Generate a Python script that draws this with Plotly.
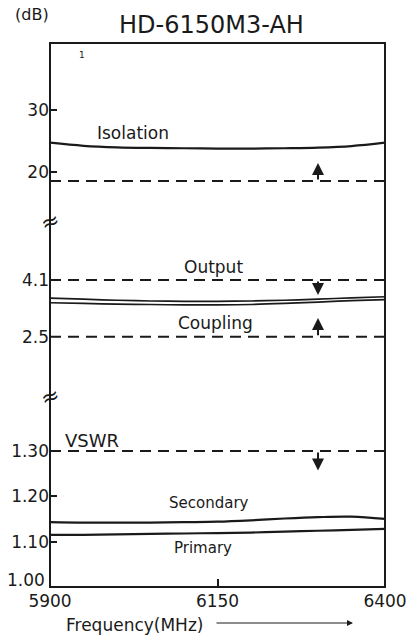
import plotly.graph_objects as go

# ---------------- data ----------------
freq = [5900, 5950, 6000, 6050, 6100, 6150, 6200, 6250, 6300, 6350, 6400]

isolation = [24.7, 24.2, 23.95, 23.85, 23.8, 23.75, 23.75, 23.8, 23.9, 24.15, 24.7]
output_db = [3.59, 3.56, 3.53, 3.51, 3.50, 3.50, 3.51, 3.53, 3.56, 3.60, 3.63]
coupling_db = [3.46, 3.44, 3.42, 3.41, 3.40, 3.40, 3.41, 3.44, 3.48, 3.52, 3.55]
vswr_secondary = [1.143, 1.142, 1.142, 1.142, 1.143, 1.144, 1.147, 1.151, 1.154, 1.155, 1.150]
vswr_primary = [1.115, 1.115, 1.116, 1.117, 1.118, 1.119, 1.120, 1.122, 1.124, 1.126, 1.128]

spec_isolation = 18.5
spec_output = 4.1
spec_coupling = 2.5
spec_vswr = 1.30

x_ticks = [5900, 6150, 6400]
top_ticks = [30, 20]
mid_ticks = [4.1, 2.5]
bot_ticks = [1.30, 1.20, 1.10, 1.00]
bot_ticktext = ["1.30", "1.20", "1.10", ""]   # "1.00" drawn as annotation

FONT = "DejaVu Sans"
INK = "#1a1a1a"

W, H, L, R, T, B = 411, 642, 50, 26, 43, 55
pw, ph = W - L - R, H - T - B
def px(xp, yp):
    return (xp - L) / pw, (H - B - yp) / ph

fig = go.Figure()

def line(x, y, xa, ya, width=2.2, dash=None):
    fig.add_trace(go.Scatter(x=x, y=y, xaxis=xa, yaxis=ya, mode="lines",
                             line=dict(color=INK, width=width, shape="spline",
                                       dash=dash),
                             showlegend=False, hoverinfo="skip", cliponaxis=False))

fr = [freq[0], freq[-1]]
DASH = "11px,7px"
# top panel: isolation
line(freq, isolation, "x3", "y3")
line(fr, [spec_isolation] * 2, "x3", "y3", width=2, dash=DASH)
# middle panel: output / coupling
line(freq, output_db, "x2", "y2", width=1.7)
line(freq, coupling_db, "x2", "y2", width=1.7)
line(fr, [spec_output] * 2, "x2", "y2", width=2, dash=DASH)
line(fr, [spec_coupling] * 2, "x2", "y2", width=2, dash=DASH)
# bottom panel: VSWR
line(freq, vswr_secondary, "x", "y")
line(freq, vswr_primary, "x", "y")
line(fr, [spec_vswr] * 2, "x", "y", width=2, dash=DASH)

d_bot = [0.0, 0.3493]
d_mid = [0.3493, 0.6710]
d_top = [0.6710, 1.0]

tickfont = dict(family=FONT, size=17, color=INK)
hidden_x = dict(domain=[0, 1], range=[5900, 6400], showticklabels=False,
                showgrid=False, zeroline=False, showline=False, ticks="",
                automargin=False)

fig.update_layout(
    width=W, height=H,
    margin=dict(l=L, r=R, t=T, b=B, autoexpand=False),
    paper_bgcolor="white", plot_bgcolor="white",
    showlegend=False,
    xaxis=dict(domain=[0, 1], range=[5900, 6400], anchor="y",
               tickvals=x_ticks, ticktext=[str(v) for v in x_ticks],
               ticks="inside", ticklen=8, tickwidth=1.5, tickcolor=INK,
               ticklabelstandoff=2,
               showgrid=False, zeroline=False, showline=False,
               tickfont=tickfont, automargin=False),
    xaxis2=dict(anchor="y2", **hidden_x),
    xaxis3=dict(anchor="y3", **hidden_x),
    yaxis=dict(domain=d_bot, range=[1.0, 1.419], anchor="x",
               tickvals=bot_ticks, ticktext=bot_ticktext,
               ticks="inside", ticklen=7, tickwidth=1.5, tickcolor=INK,
               showgrid=False, zeroline=False, tickfont=tickfont,
               automargin=False),
    yaxis2=dict(domain=d_mid, range=[0.80, 5.74], anchor="x2",
                tickvals=mid_ticks, ticktext=[str(v) for v in mid_ticks],
                ticks="", showgrid=False, zeroline=False, tickfont=tickfont,
                automargin=False),
    yaxis3=dict(domain=d_top, range=[11.85, 40.86], anchor="x3",
                tickvals=top_ticks, ticktext=[str(v) for v in top_ticks],
                ticks="inside", ticklen=7, tickwidth=1.5, tickcolor=INK,
                showgrid=False, zeroline=False, tickfont=tickfont,
                automargin=False),
)

# frame
fig.add_shape(type="rect", xref="paper", yref="paper", x0=0, x1=1, y0=0, y1=1,
              line=dict(color=INK, width=2), fillcolor="rgba(0,0,0,0)", layer="above")

anns = []
def label(text, x, y, xref, yref, size=16):
    anns.append(dict(text=text, x=x, y=y, xref=xref, yref=yref, showarrow=False,
                     xanchor="center", yanchor="middle",
                     font=dict(family=FONT, size=size, color=INK)))

label("Isolation", 6024, 26.3, "x3", "y3", size=17)
label("Output", 6144, 4.47, "x2", "y2", size=17)
label("Coupling", 6147, 2.89, "x2", "y2", size=17)
label("VSWR", 5962, 1.322, "x", "y", size=18)
label("Secondary", 6137, 1.186, "x", "y", size=15)
label("Primary", 6128, 1.086, "x", "y", size=15)

# lowest VSWR tick label, lifted slightly above the corner as in the original
anns.append(dict(text="1.00", x=0, y=bot_ticks[-1], xref="paper", yref="y",
                 xanchor="right", yanchor="middle", xshift=-3, yshift=7,
                 showarrow=False, font=tickfont))

# spec arrows
def spec_arrow(xa, ya, tail, head):
    anns.append(dict(x=6300, y=head, ax=6300, ay=tail, xref=xa, yref=ya,
                     axref=xa, ayref=ya, showarrow=True, text="",
                     arrowhead=2, arrowsize=1.2, arrowwidth=2, arrowcolor=INK))

spec_arrow("x3", "y3", spec_isolation, 21.4)
spec_arrow("x2", "y2", spec_output, 3.68)
spec_arrow("x2", "y2", spec_coupling, 3.03)
spec_arrow("x", "y", spec_vswr, 1.257)

# axis breaks
for yb in (d_top[0], d_mid[0]):
    anns.append(dict(text="≈", x=0, y=yb, xref="paper", yref="paper",
                     xanchor="center", yanchor="middle",
                     showarrow=False, textangle=-20,
                     font=dict(family="DejaVu Sans", size=22, color=INK)))

def ptext(text, xp, yp, size, family=FONT):
    x, y = px(xp, yp)
    anns.append(dict(text=text, x=x, y=y, xref="paper", yref="paper",
                     xanchor="center", yanchor="middle",
                     showarrow=False, font=dict(family=family, size=size, color=INK)))

ptext("HD-6150M3-AH", 211, 25, 24)
ptext("(dB)", 32, 15, 16)
ptext("1", 82, 55, 9)
ptext("Frequency(MHz)", 134, 625, 17)
hx, hy = px(353, 623)
anns.append(dict(text="", x=hx, y=hy, xref="paper", yref="paper",
                 ax=-138, ay=0, showarrow=True, arrowhead=2,
                 arrowsize=1, arrowwidth=1.2, arrowcolor=INK))

fig.update_layout(annotations=anns)
fig.write_html("out.html", config={"displayModeBar": False},
               post_script="document.body.style.margin='0';"
                           "document.body.style.overflow='hidden';")
